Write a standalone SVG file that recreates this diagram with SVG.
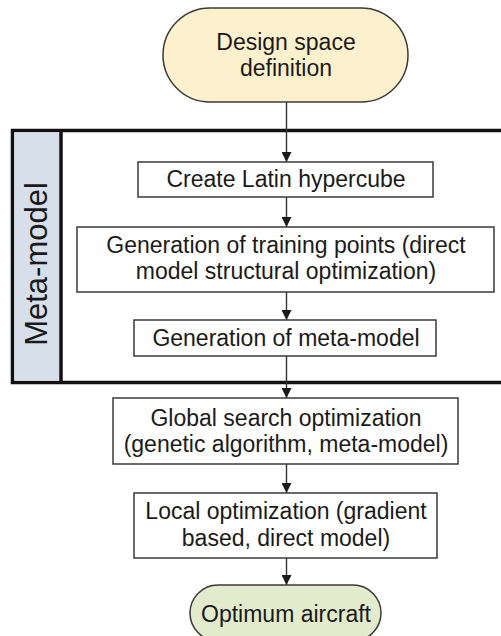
<svg xmlns="http://www.w3.org/2000/svg" width="501" height="636" viewBox="0 0 501 636">
<style>
.box{fill:#ffffff;stroke:#3a3a3a;stroke-width:1.5}
.t{font-family:"Liberation Sans",Arial,sans-serif;font-size:23px;fill:#1a1a1a;text-anchor:middle}
.c{stroke:#333;stroke-width:1.4;fill:none}
</style>
<defs>
<marker id="ah" markerWidth="10" markerHeight="10" refX="10" refY="5" orient="auto" markerUnits="userSpaceOnUse">
<path d="M0,0 L10,5 L0,10 z" fill="#1a1a1a"/>
</marker>
</defs>
<g id="metamodel-group">
<rect x="12.5" y="130.5" width="520" height="252" fill="#ffffff" stroke="#111" stroke-width="3.5"/>
<rect x="14.5" y="132.5" width="45" height="248" fill="#d6dfea"/>
<line x1="61" y1="130.5" x2="61" y2="382.5" stroke="#111" stroke-width="3.5"/>
<text class="t" style="font-size:31px" transform="translate(47,264) rotate(-90)">Meta-model</text>
</g>
<g id="connectors">
<line class="c" x1="286.5" y1="102" x2="286.5" y2="162" marker-end="url(#ah)"/>
<line class="c" x1="286.5" y1="197" x2="286.5" y2="227" marker-end="url(#ah)"/>
<line class="c" x1="286.5" y1="292" x2="286.5" y2="320" marker-end="url(#ah)"/>
<line class="c" x1="286.5" y1="356" x2="286.5" y2="398" marker-end="url(#ah)"/>
<line class="c" x1="286.5" y1="464" x2="286.5" y2="493" marker-end="url(#ah)"/>
<line class="c" x1="286.5" y1="558" x2="286.5" y2="585" marker-end="url(#ah)"/>
</g>
<g id="design-space">
<rect x="163" y="8" width="245" height="94" rx="47" ry="47" fill="#fdf0cd" stroke="#3a3a3a" stroke-width="1.5"/>
<text class="t" x="286" y="50">Design space</text>
<text class="t" x="286" y="76">definition</text>
</g>
<g id="latin-hypercube">
<rect class="box" x="138" y="162" width="295" height="35"/>
<text class="t" x="286" y="187">Create Latin hypercube</text>
</g>
<g id="training-points">
<rect class="box" x="77" y="227" width="417" height="65"/>
<text class="t" x="286" y="253">Generation of training points (direct</text>
<text class="t" x="286" y="279">model structural optimization)</text>
</g>
<g id="meta-model">
<rect class="box" x="134" y="320" width="302" height="36"/>
<text class="t" x="286" y="346">Generation of meta-model</text>
</g>
<g id="global-search">
<rect class="box" x="113" y="398" width="345" height="66"/>
<text class="t" x="286" y="426">Global search optimization</text>
<text class="t" x="286" y="452">(genetic algorithm, meta-model)</text>
</g>
<g id="local-optimization">
<rect class="box" x="134" y="493" width="303" height="65"/>
<text class="t" x="286" y="519">Local optimization (gradient</text>
<text class="t" x="286" y="546">based, direct model)</text>
</g>
<g id="optimum-aircraft">
<rect x="190" y="585" width="191" height="56" rx="28" ry="28" fill="#e3ebcd" stroke="#3a3a3a" stroke-width="1.5"/>
<text class="t" x="286" y="622">Optimum aircraft</text>
</g>
</svg>
